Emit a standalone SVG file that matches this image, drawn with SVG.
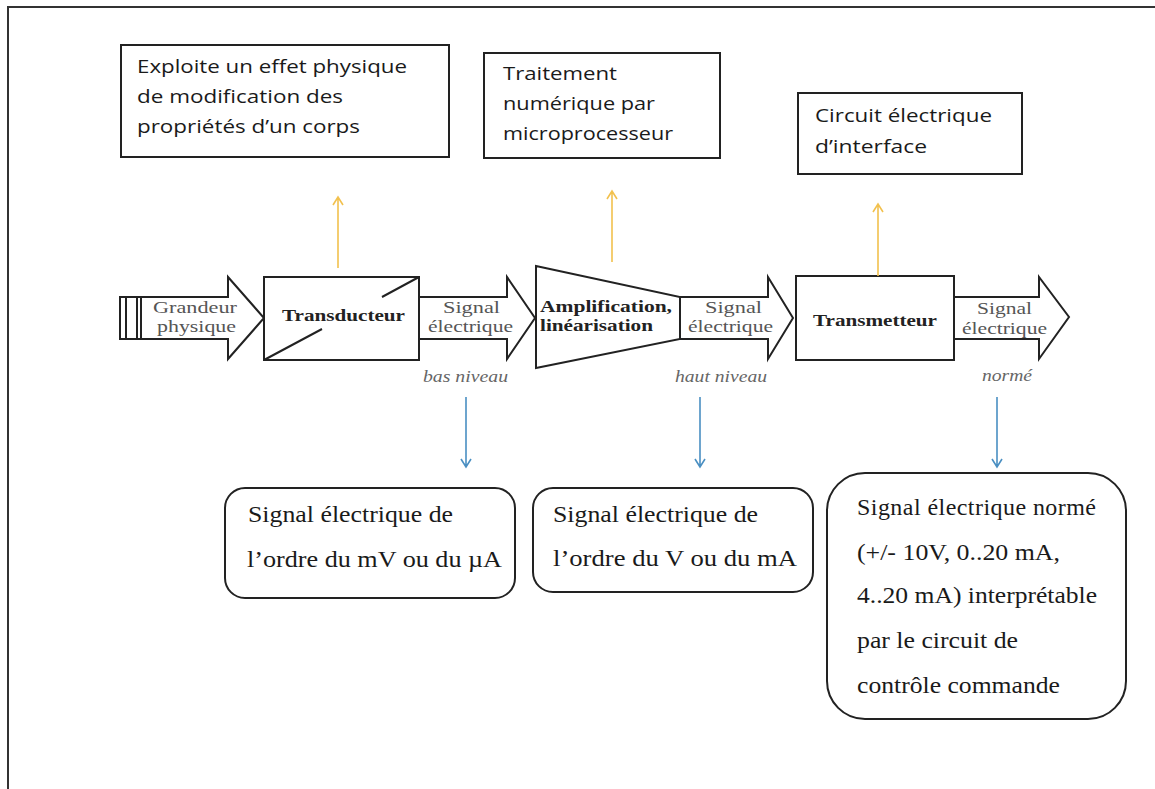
<svg xmlns="http://www.w3.org/2000/svg" width="1155" height="789" viewBox="0 0 1155 789">
<defs>
<style>
.frame{fill:none;stroke:#333;stroke-width:2}
.box{fill:#fff;stroke:#222;stroke-width:2}
.blk{fill:#fff;stroke:#222;stroke-width:2;stroke-linejoin:miter}
.sans{font-family:"Open Sans","Liberation Sans",sans-serif;font-size:18.5px;fill:#1a1a1a}
.serif{font-family:"Liberation Serif","Times New Roman",serif;font-size:24px;fill:#1a1a1a}
.lbl{font-family:"Liberation Serif","Times New Roman",serif;font-size:17px;fill:#555}
.bold{font-family:"Liberation Serif","Times New Roman",serif;font-size:17px;font-weight:bold;fill:#222}
.ital{font-family:"Liberation Serif","Times New Roman",serif;font-size:16px;font-style:italic;fill:#666}
.up{stroke:#f2c14e;stroke-width:1.6;fill:none}
.down{stroke:#4a8fc2;stroke-width:1.6;fill:none}
</style>
</defs>
<rect width="1155" height="789" fill="#fff"/>
<path class="frame" d="M8,789 V7 H1155"/>

<g id="box-effet">
<rect class="box" x="121" y="45" width="328" height="112"/>
<text class="sans" x="137" y="73" textLength="270" lengthAdjust="spacingAndGlyphs">Exploite un effet physique</text>
<text class="sans" x="137" y="103" textLength="206" lengthAdjust="spacingAndGlyphs">de modification  des</text>
<text class="sans" x="137" y="133" textLength="223" lengthAdjust="spacingAndGlyphs">propriétés d’un corps</text>
</g>
<g id="box-traitement">
<rect class="box" x="484" y="53" width="236" height="105"/>
<text class="sans" x="503" y="80" textLength="114" lengthAdjust="spacingAndGlyphs">Traitement</text>
<text class="sans" x="503" y="110" textLength="152" lengthAdjust="spacingAndGlyphs">numérique par</text>
<text class="sans" x="503" y="140" textLength="170" lengthAdjust="spacingAndGlyphs">microprocesseur</text>
</g>
<g id="box-interface">
<rect class="box" x="798" y="93" width="224" height="81"/>
<text class="sans" x="815" y="122" textLength="177" lengthAdjust="spacingAndGlyphs">Circuit électrique</text>
<text class="sans" x="815" y="153" textLength="112" lengthAdjust="spacingAndGlyphs">d’interface</text>
</g>

<g id="capteur">
<rect class="blk" x="120" y="297" width="21" height="42" stroke-width="1.6"/>
<rect class="blk" x="126" y="297" width="11" height="42" stroke-width="1.6"/>
</g>
<g id="arrow-grandeur">
<path class="blk" d="M141,297 H228 V277 L264,318 L228,359 V339 H141 Z"/>
<text class="lbl" x="153" y="313" textLength="84" lengthAdjust="spacingAndGlyphs">Grandeur</text>
<text class="lbl" x="157" y="332" textLength="79" lengthAdjust="spacingAndGlyphs">physique</text>
</g>
<g id="transducteur">
<rect class="blk" x="264" y="277" width="155" height="83"/>
<path d="M264,360 L322,329 M419,277 L382,297" stroke="#222" stroke-width="2"/>
<text class="bold" x="282" y="321" textLength="123" lengthAdjust="spacingAndGlyphs">Transducteur</text>
</g>
<g id="arrow-signal-bas">
<path class="blk" d="M419,297 H507 V277 L535,318 L507,359 V339 H419 Z"/>
<text class="lbl" x="443" y="313" textLength="57" lengthAdjust="spacingAndGlyphs">Signal</text>
<text class="lbl" x="428" y="332" textLength="85" lengthAdjust="spacingAndGlyphs">électrique</text>
<text class="ital" x="423" y="382" textLength="85" lengthAdjust="spacingAndGlyphs">bas niveau</text>
</g>
<g id="amplification">
<path class="blk" d="M536,266 L680,297 V339 L536,368 Z"/>
<text class="bold" x="540" y="312" textLength="132" lengthAdjust="spacingAndGlyphs">Amplification,</text>
<text class="bold" x="540" y="331" textLength="113" lengthAdjust="spacingAndGlyphs">linéarisation</text>
</g>
<g id="arrow-signal-haut">
<path class="blk" d="M680,297 H768 V277 L793,318 L768,359 V339 H680 Z"/>
<text class="lbl" x="705" y="313" textLength="57" lengthAdjust="spacingAndGlyphs">Signal</text>
<text class="lbl" x="688" y="332" textLength="85" lengthAdjust="spacingAndGlyphs">électrique</text>
<text class="ital" x="675" y="382" textLength="92" lengthAdjust="spacingAndGlyphs">haut niveau</text>
</g>
<g id="transmetteur">
<rect class="blk" x="796" y="276" width="158" height="84"/>
<text class="bold" x="813" y="326" textLength="124" lengthAdjust="spacingAndGlyphs">Transmetteur</text>
</g>
<g id="arrow-signal-norme">
<path class="blk" d="M954,297 H1039 V277 L1069,317 L1039,359 V339 H954 Z"/>
<text class="lbl" x="977" y="314" textLength="55" lengthAdjust="spacingAndGlyphs">Signal</text>
<text class="lbl" x="962" y="334" textLength="85" lengthAdjust="spacingAndGlyphs">électrique</text>
<text class="ital" x="982" y="381" textLength="50" lengthAdjust="spacingAndGlyphs">normé</text>
</g>

<g id="note-mV">
<rect class="box" x="225" y="488" width="290" height="110" rx="20"/>
<text class="serif" x="248" y="522" textLength="205" lengthAdjust="spacingAndGlyphs">Signal électrique de</text>
<text class="serif" x="247" y="567" textLength="255" lengthAdjust="spacingAndGlyphs">l’ordre du mV ou du µA</text>
</g>
<g id="note-V">
<rect class="box" x="533" y="488" width="280" height="104" rx="20"/>
<text class="serif" x="553" y="522" textLength="205" lengthAdjust="spacingAndGlyphs">Signal électrique de</text>
<text class="serif" x="553" y="566" textLength="244" lengthAdjust="spacingAndGlyphs">l’ordre du V ou du mA</text>
</g>
<g id="note-norme">
<rect class="box" x="827" y="473" width="299" height="246" rx="38"/>
<text class="serif" x="857" y="515" textLength="239" lengthAdjust="spacing">Signal électrique normé</text>
<text class="serif" x="857" y="560" textLength="203" lengthAdjust="spacingAndGlyphs">(+/- 10V, 0..20 mA,</text>
<text class="serif" x="857" y="603" textLength="240" lengthAdjust="spacingAndGlyphs">4..20 mA) interprétable</text>
<text class="serif" x="857" y="648" textLength="161" lengthAdjust="spacingAndGlyphs">par le circuit de</text>
<text class="serif" x="857" y="693" textLength="203" lengthAdjust="spacingAndGlyphs">contrôle commande</text>
</g>

<g id="connectors">
<path class="up" d="M338,268 V197 M333,205 L338,197 L343,205"/>
<path class="up" d="M612,262 V191 M607,199 L612,191 L617,199"/>
<path class="up" d="M878,276 V204 M873,212 L878,204 L883,212"/>
<path class="down" d="M466,397 V467 M461,459 L466,467 L471,459"/>
<path class="down" d="M700,397 V467 M695,459 L700,467 L705,459"/>
<path class="down" d="M997,397 V467 M992,459 L997,467 L1002,459"/>
</g>
</svg>
